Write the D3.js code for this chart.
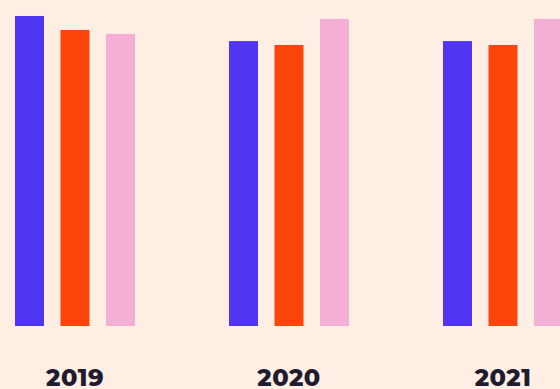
<!DOCTYPE html>
<html><head><meta charset="utf-8">
<script src="https://cdn.jsdelivr.net/npm/d3@7"></script>
<style>
html,body{margin:0;padding:0;background:#FFEEE4;}
svg{display:block;}
</style></head>
<body>
<svg id="c" width="560" height="389"></svg>
<script>
const years = ["2019", "2020", "2021"];
const seriesNames = ["A", "B", "C"];
const seriesA = [95.1, 87.4, 87.4];
const seriesB = [90.8, 86.2, 86.2];
const seriesC = [89.6, 94.2, 94.2];
const colors = ["#5036F2", "#FC450A", "#F4B0D4"];

const svg = d3.select("#c");
svg.append("rect").attr("width",560).attr("height",389).attr("fill","#FFEEE4");

const x0 = d3.scaleBand().domain(years).range([15, 15 + 3*214]).paddingInner(0).paddingOuter(0);
const x1 = d3.scaleBand().domain(seriesNames).range([0, 120]).paddingInner(0.3626).paddingOuter(0);
const y = d3.scaleLinear().domain([0, 100]).range([326, 0]);

const data = years.map((yr, i) => ({year: yr, vals: [seriesA[i], seriesB[i], seriesC[i]]}));

const g = svg.append("g");
const groups = g.selectAll("g.grp").data(data).join("g")
  .attr("transform", d => `translate(${x0(d.year)},0)`);
groups.selectAll("rect").data(d => d.vals.map((v, k) => ({k, v}))).join("rect")
  .attr("x", d => x1(seriesNames[d.k]))
  .attr("width", x1.bandwidth())
  .attr("y", d => y(d.v))
  .attr("height", d => y(0) - y(d.v))
  .attr("fill", d => colors[d.k]);

svg.selectAll("text.lbl").data(years).join("text")
  .attr("class","lbl")
  .attr("x", d => x0(d) + 60)
  .attr("y", 386)
  .attr("text-anchor","middle")
  .attr("font-family","Montserrat, 'Open Sans', sans-serif")
  .attr("font-weight", 800)
  .attr("font-size", 24)
  .attr("letter-spacing", 0.5)
  .attr("fill","#1E1C2E")
  .text(d => d);
</script>
</body></html>
